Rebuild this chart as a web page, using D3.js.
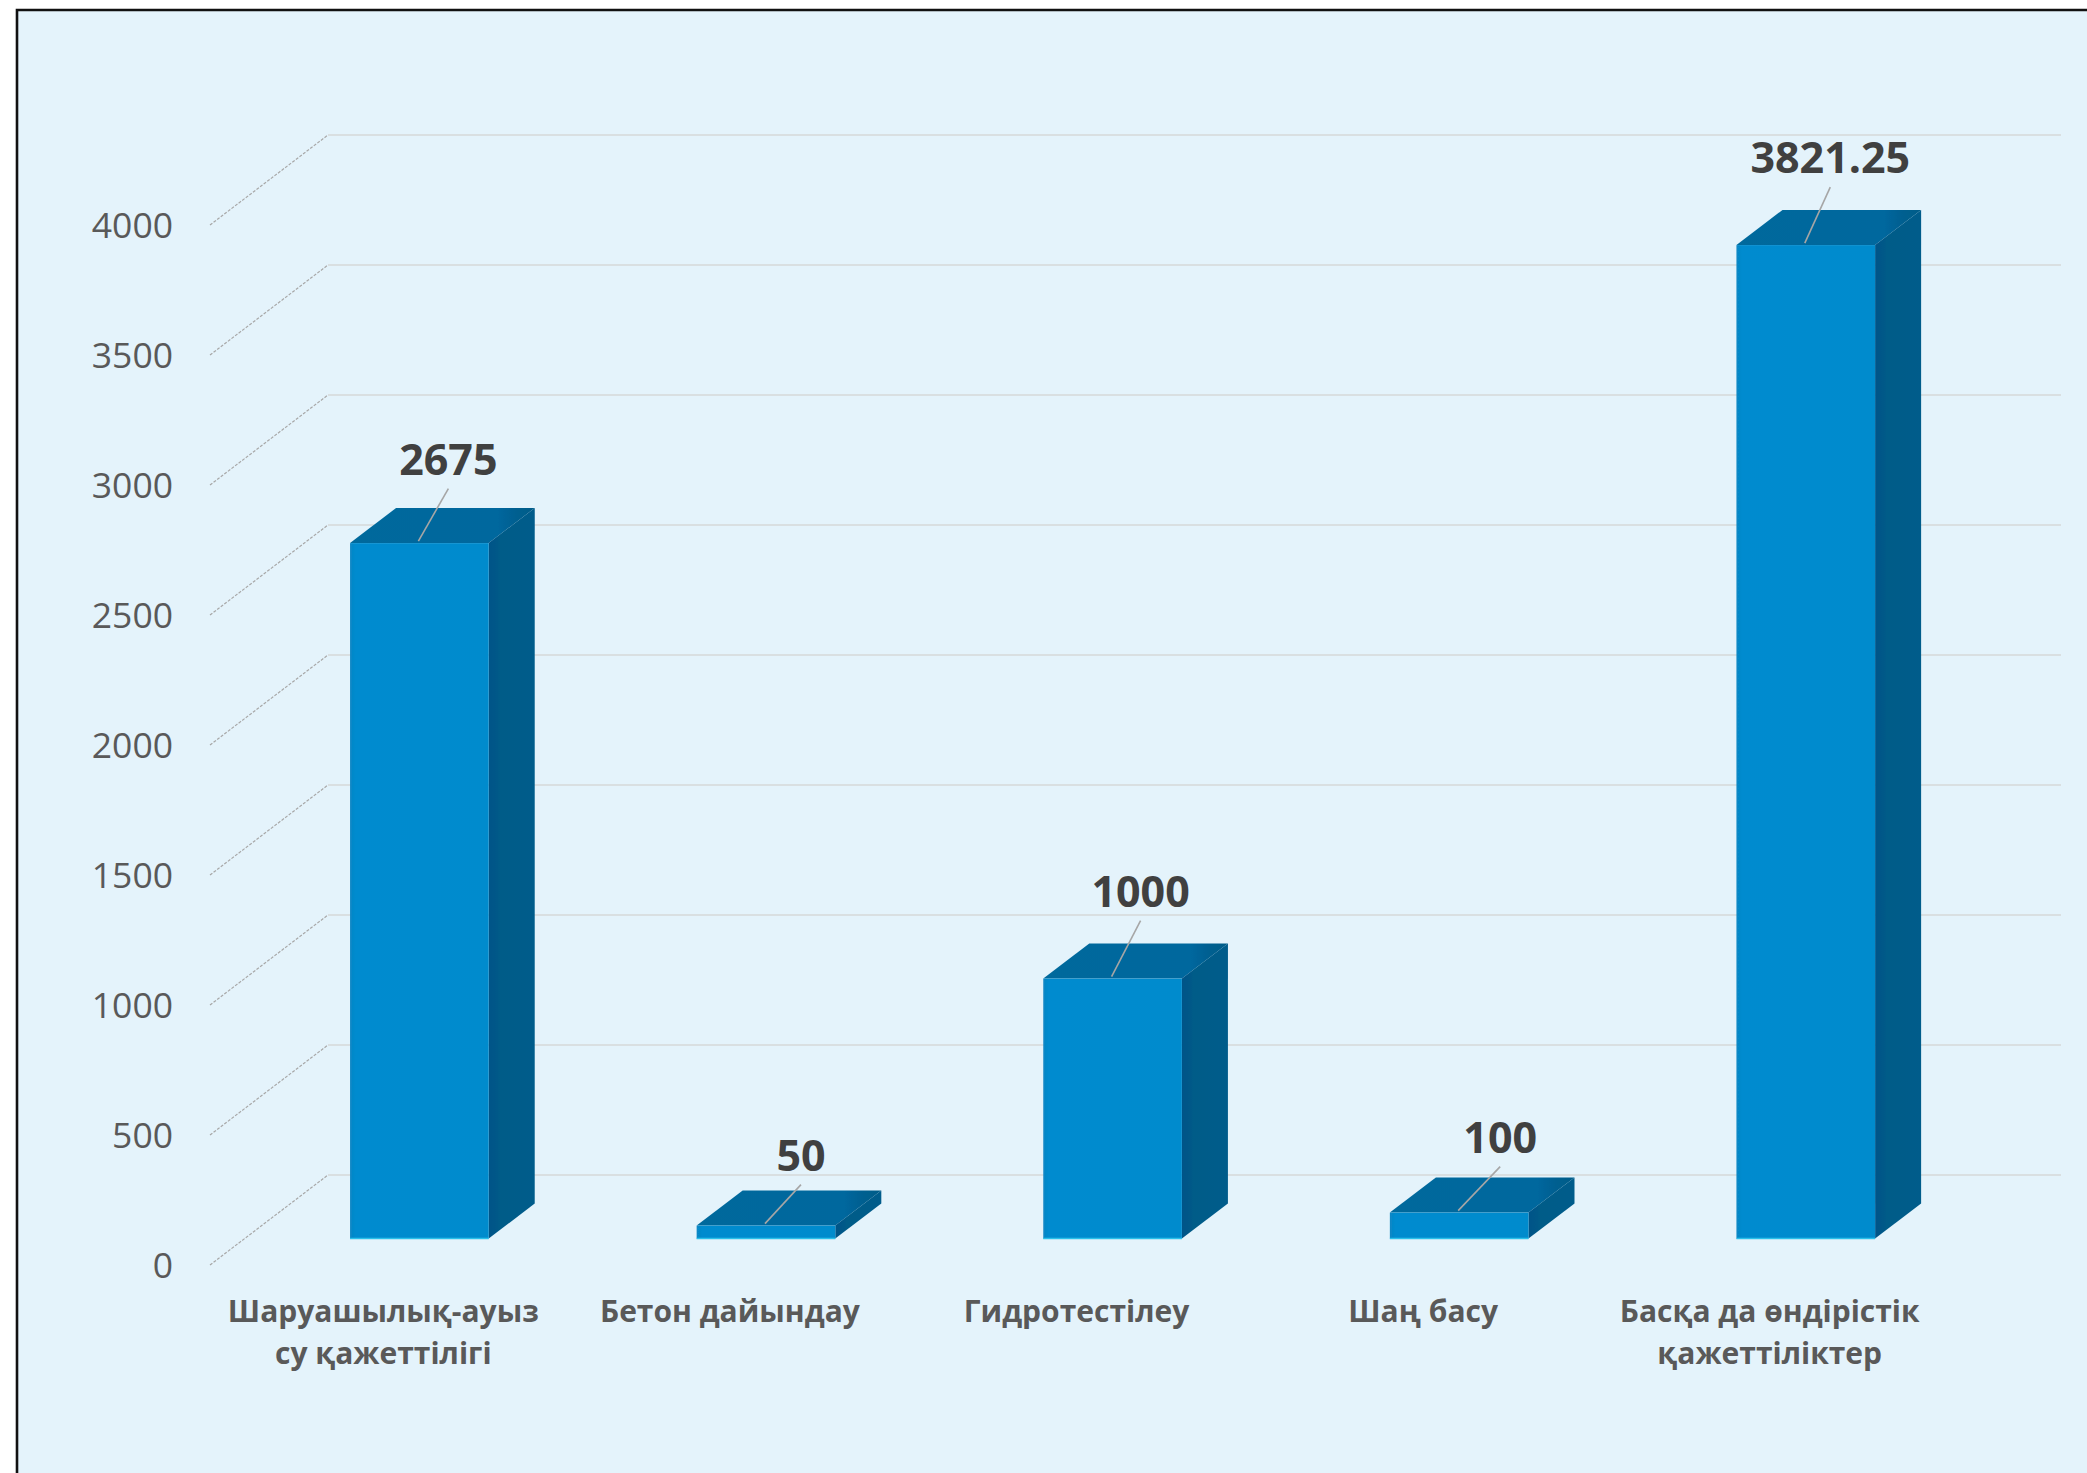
<!DOCTYPE html>
<html><head><meta charset="utf-8">
<script src="https://cdn.jsdelivr.net/npm/d3@7/dist/d3.min.js"></script>
<style>html,body{margin:0;padding:0;background:#fff}svg{display:block}text{font-family:"Open Sans",sans-serif}</style>
</head><body><div id="chart"></div>
<script>
const categories = ["Шаруашылық-ауыз су қажеттілігі","Бетон дайындау","Гидротестілеу","Шаң басу","Басқа да өндірістік қажеттіліктер"];
const categoryLines = [["Шаруашылық-ауыз","су қажеттілігі"],["Бетон дайындау"],["Гидротестілеу"],["Шаң басу"],["Басқа да өндірістік","қажеттіліктер"]];
const values = [2675,50,1000,100,3821.25];
const valueLabels = ["2675","50","1000","100","3821.25"];
const yTicks = [0,500,1000,1500,2000,2500,3000,3500,4000];

// layout
const W=2087,H=1473;
const depthX=118,depthY=90, z0=0.31, z1=0.70;
const labelDx=[29,35,28,41,24.5], labelRise=[68.5,55,72,60,72];
const x=d3.scaleBand().domain(categories).range([210,1943]).paddingInner(0.6).paddingOuter(0.3);
const band=d3.scaleBand().domain(categories).range([210,1943]);
const y=d3.scaleLinear().domain([0,4000]).range([1265,225]);
const px=(c,z)=>c+z*depthX, py=(v,z)=>y(v)-z*depthY;

const svg=d3.select("#chart").append("svg").attr("width",W).attr("height",H);
const defs=svg.append("defs");
const fg=defs.append("linearGradient").attr("id","front").attr("x1",0).attr("x2",1).attr("y1",0).attr("y2",0);
fg.append("stop").attr("offset",0).attr("stop-color","#0a86c4");
fg.append("stop").attr("offset",.04).attr("stop-color","#008bcf");
fg.append("stop").attr("offset",1).attr("stop-color","#008bcd");
const tg=defs.append("linearGradient").attr("id","top").attr("x1",0).attr("x2",1).attr("y1",0).attr("y2",0);
tg.append("stop").attr("offset",0).attr("stop-color","#00699c");
tg.append("stop").attr("offset",.8).attr("stop-color","#00679e");
tg.append("stop").attr("offset",.9).attr("stop-color","#005f90");
tg.append("stop").attr("offset",1).attr("stop-color","#005c88");
const sg=defs.append("linearGradient").attr("id","side").attr("x1",0).attr("x2",1).attr("y1",0).attr("y2",0);
sg.append("stop").attr("offset",0).attr("stop-color","#005388");
sg.append("stop").attr("offset",.25).attr("stop-color","#005b88");
sg.append("stop").attr("offset",1).attr("stop-color","#005b8b");
const blur=defs.append("filter").attr("id","soft").attr("x","-5%").attr("y","-5%").attr("width","110%").attr("height","110%");
blur.append("feGaussianBlur").attr("stdDeviation",0.6);

svg.append("rect").attr("x",17).attr("y",10).attr("width",W-17).attr("height",H-10)
  .attr("fill","#e4f3fb");
svg.append("path").attr("d",`M17,${H}V10H${W}`).attr("fill","none").attr("stroke","#111").attr("stroke-width",2.6);

// walls + grid
const grid=svg.append("g").attr("fill","none");
grid.selectAll("path.wall").data(yTicks).join("path").attr("class","wall")
  .attr("d",d=>`M${px(210,0)},${py(d,0)}L${px(210,1)},${py(d,1)}`)
  .attr("stroke","#a8a8a8").attr("stroke-width",1.2).attr("stroke-dasharray","3 1.5");
grid.selectAll("path.back").data(yTicks).join("path").attr("class","back")
  .attr("d",d=>`M${px(210,1)},${py(d,1)}H${px(1943,1)}`)
  .attr("stroke","#d6d8d9").attr("stroke-width",1.7);

// value axis
const axis=svg.append("g").attr("transform","translate(173,1)")
  .call(d3.axisLeft(y).tickValues(yTicks).tickSize(0).tickPadding(0).tickFormat(d3.format("d")));
axis.select(".domain").remove();
axis.selectAll("text").attr("font-size",35.5).attr("fill","#595959").style("font-family",'"Open Sans",sans-serif');

// bars
const rows=categories.map((c,i)=>({c,i,v:values[i]}));
const bars=svg.append("g").attr("transform","translate(-0.5,1.5)").selectAll("g").data(rows).join("g");
const shapes=bars.append("g").attr("filter","url(#soft)");
const X0=d=>x(d.c), X1=d=>x(d.c)+x.bandwidth();
shapes.append("path").attr("fill","url(#top)")
  .attr("d",d=>`M${px(X0(d),z0)},${py(d.v,z0)}L${px(X0(d),z1)},${py(d.v,z1)}H${px(X1(d),z1)}L${px(X1(d),z0)},${py(d.v,z0)}Z`);
shapes.append("path").attr("fill","url(#side)")
  .attr("d",d=>`M${px(X1(d),z0)},${py(d.v,z0)}L${px(X1(d),z1)},${py(d.v,z1)}V${py(0,z1)}L${px(X1(d),z0)},${py(0,z0)}Z`);
shapes.append("rect").attr("fill","url(#front)")
  .attr("x",d=>px(X0(d),z0)).attr("width",x.bandwidth())
  .attr("y",d=>py(d.v,z0)).attr("height",d=>py(0,z0)-py(d.v,z0));
shapes.append("path").attr("fill","none").attr("stroke","#2cc0ea").attr("stroke-width",1.5)
  .attr("d",d=>`M${px(X0(d),z0)},${py(0,z0)}h${x.bandwidth()}`);

// leaders + labels
const cx=d=>px(x(d.c)+x.bandwidth()/2,z0);
bars.append("line").attr("stroke","#a6a6a6").attr("stroke-width",1.6)
  .attr("x1",d=>cx(d)+labelDx[d.i]).attr("y1",d=>py(d.v,z0)-labelRise[d.i]+14)
  .attr("x2",d=>cx(d)-1).attr("y2",d=>py(d.v,z0)-2);
bars.append("text").attr("text-anchor","middle").attr("font-size",43).attr("font-weight",700).attr("fill","#404040")
  .attr("x",d=>cx(d)+labelDx[d.i]).attr("y",d=>py(d.v,z0)-labelRise[d.i]).text(d=>valueLabels[d.i]);

// category labels
const cats=svg.append("g").selectAll("text").data(rows).join("text")
  .attr("text-anchor","middle").attr("font-size",30).attr("font-weight",700).attr("fill","#595959")
  .attr("transform",d=>`translate(${band(d.c)+band.bandwidth()/2},1322)`);
cats.selectAll("tspan").data(d=>categoryLines[d.i]).join("tspan")
  .attr("x",0).attr("y",(d,i)=>i*41.7).text(d=>d);
</script></body></html>
